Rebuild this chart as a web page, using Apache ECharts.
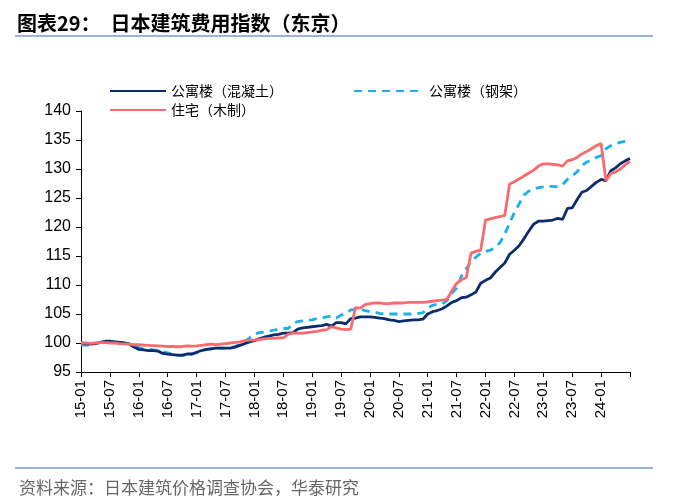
<!DOCTYPE html>
<html><head><meta charset="utf-8">
<script src="https://cdn.jsdelivr.net/npm/echarts@6/dist/echarts.min.js"></script>
<style>html,body{margin:0;padding:0;background:#fff}#c{width:700px;height:500px}</style>
</head><body><div id="c"></div>
<script>
// months 15-01 .. 24-07
const categories = [];
for (let y = 15; y <= 24; y++) for (let m = 1; m <= 12; m++) {
  if (y === 24 && m > 7) break;
  categories.push(y + '-' + String(m).padStart(2, '0'));
}
const concrete = [
  100,99.9,99.8,99.9,100.1,100.3,100.3,100.2,100.1,100,99.8,99.3,
  98.9,98.8,98.7,98.7,98.6,98.2,98.1,98,97.9,97.9,98.1,98.1,
  98.4,98.7,98.9,99,99.1,99.1,99.1,99.1,99.3,99.6,99.9,100.2,
  100.4,100.7,101,101.2,101.4,101.5,101.7,101.7,101.8,102.4,102.6,102.7,
  102.8,102.9,103,103.2,102.9,103.5,103.5,103.3,104.2,104.3,104.5,104.5,
  104.5,104.4,104.3,104.2,104,103.9,103.7,103.8,103.9,104,104,104.1,
  105,105.4,105.6,105.9,106.4,107,107.3,107.8,107.9,108.3,108.8,110.3,
  110.8,111.2,112.2,113,113.8,115.3,116,116.8,118,119.3,120.5,121,
  121,121.1,121.2,121.5,121.3,123.2,123.3,124.7,126,126.3,127,127.7,
  128.2,128,129.7,130.2,130.9,131.4,131.8
];
const steel = [
  99.7,99.6,99.7,99.9,100.1,100.2,100.2,100.2,100.1,100,99.9,99.6,
  99.2,99,98.9,98.8,98.7,98.5,98.3,98.1,97.9,97.8,98,98.1,
  98.3,98.6,98.9,99,99.1,99.1,99.1,99.2,99.4,99.8,100.2,100.9,
  101.5,101.8,101.9,102,102.2,102.4,102.5,102.5,103.3,103.7,103.8,103.9,
  104,104.2,104.3,104.5,104.6,104.3,104.8,105.1,105.7,105.8,105.8,105.6,
  105.4,105.3,105.1,105,105,105,105,105,105,105,105.1,105.2,
  106,106.5,106.7,106.7,107.3,108.5,109.5,111.5,112.8,114,114.8,115.5,
  115.8,116,116.5,117.3,118.8,120.7,122.5,124,125.5,126.2,126.5,126.8,
  126.9,127,127,126.9,127.3,128.2,128.8,129.5,130.6,131.2,131.5,132,
  132.3,133.5,134,134.4,134.6,134.8,135
];
const wood = [
  100,100,99.95,100,100.05,100.05,100,100,99.9,99.85,99.8,99.7,
  99.7,99.65,99.6,99.55,99.5,99.45,99.4,99.4,99.35,99.4,99.5,99.45,
  99.5,99.6,99.7,99.8,99.7,99.8,99.9,100,100.1,100.2,100.4,100.5,
  100.5,100.6,100.7,100.8,100.8,100.9,100.9,101.5,101.7,101.7,101.7,101.8,
  101.9,102,102.2,102.3,102.8,102.6,102.4,102.3,102.4,106.1,106,106.6,
  106.8,106.9,106.9,106.8,106.8,106.9,106.9,106.9,107,107,107,107,
  107.1,107.2,107.3,107.4,107.5,109,110.3,110.9,111.3,115.5,115.8,116,
  121.2,121.4,121.6,121.8,122,127.4,127.8,128.3,128.8,129.3,129.8,130.5,
  130.9,130.9,130.8,130.7,130.5,131.4,131.6,132,132.6,133,133.5,134,
  134.4,128,129.2,129.5,130,130.7,131.3
];
const yTicks = { min: 95, max: 140, interval: 5 };
const seriesNames = ['公寓楼（混凝土）', '公寓楼（钢架）', '住宅（木制）'];

const cjk = '"Noto Sans CJK SC", sans-serif';
const num = '"Liberation Sans", Arial, sans-serif';
const chart = echarts.init(document.getElementById('c'));
const legendText = { fontFamily: cjk, fontSize: 14, color: '#000' };
chart.setOption({
  animation: false,
  backgroundColor: '#fff',
  title: [
    { text: '图表29：　日本建筑费用指数（东京）', left: 12, top: 8,
      textStyle: { fontFamily: cjk, fontSize: 20, fontWeight: 'bold', color: '#000' } },
    { text: '资料来源：日本建筑价格调查协会，华泰研究', left: 14, top: 474,
      textStyle: { fontFamily: cjk, fontSize: 17, fontWeight: 'normal', color: '#666' } }
  ],
  graphic: [
    { type: 'line', shape: { x1: 15, y1: 36, x2: 653, y2: 36 }, style: { stroke: '#7a9cc6', lineWidth: 1.5 } },
    { type: 'line', shape: { x1: 15, y1: 468, x2: 653, y2: 468 }, style: { stroke: '#7a9cc6', lineWidth: 1.5 } }
  ],
  legend: [
    { data: [seriesNames[0]], left: 104, top: 79, itemWidth: 56, itemHeight: 14, itemGap: 6,
      itemStyle: { opacity: 0 }, textStyle: legendText },
    { data: [seriesNames[1]], left: 348, top: 79, itemWidth: 70, itemHeight: 14, itemGap: 6,
      itemStyle: { opacity: 0 }, textStyle: legendText },
    { data: [seriesNames[2]], left: 104, top: 98, itemWidth: 56, itemHeight: 14, itemGap: 6,
      itemStyle: { opacity: 0 }, textStyle: legendText }
  ],
  grid: { left: 81, right: 70, top: 111, bottom: 128, containLabel: false },
  xAxis: {
    type: 'category', data: categories, boundaryGap: false,
    axisLine: { lineStyle: { color: '#000', width: 1 } },
    axisTick: { interval: (i) => i % 6 === 0, length: 5, lineStyle: { color: '#000' } },
    axisLabel: { interval: (i) => i % 6 === 0 && i < categories.length - 1, rotate: 90,
      fontFamily: num, fontSize: 15, color: '#000', margin: 8 },
    splitLine: { show: false }
  },
  yAxis: {
    type: 'value', min: yTicks.min, max: yTicks.max, interval: yTicks.interval,
    axisLine: { show: true, lineStyle: { color: '#000', width: 1 } },
    axisTick: { show: true, length: 5, lineStyle: { color: '#000' } },
    axisLabel: { fontFamily: num, fontSize: 16, color: '#000', margin: 10 },
    splitLine: { show: false }
  },
  series: [
    { name: seriesNames[0], type: 'line', data: concrete, symbol: 'none', z: 3,
      lineStyle: { color: '#0c2d6b', width: 2.8 }, itemStyle: { color: '#0c2d6b' } },
    { name: seriesNames[1], type: 'line', data: steel, symbol: 'none', z: 2,
      lineStyle: { color: '#1ab0ec', width: 2.8, type: [8, 6] }, itemStyle: { color: '#1ab0ec' } },
    { name: seriesNames[2], type: 'line', data: wood, symbol: 'none', z: 4,
      lineStyle: { color: '#f86a6d', width: 2.8 }, itemStyle: { color: '#f86a6d' } }
  ]
});
</script></body></html>
